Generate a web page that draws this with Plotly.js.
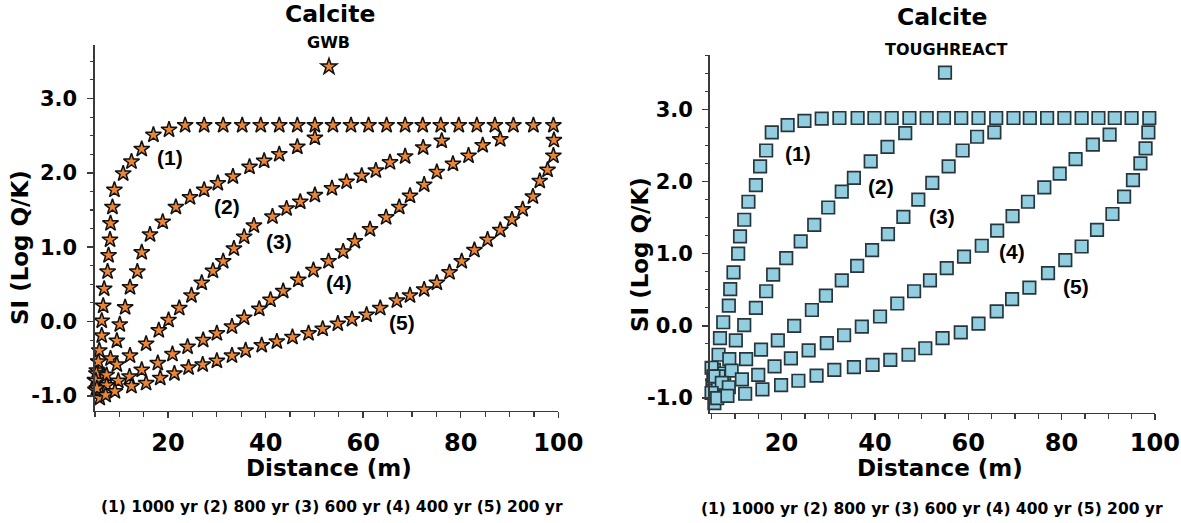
<!DOCTYPE html>
<html>
<head>
<meta charset="utf-8">
<script src="https://cdn.plot.ly/plotly-3.0.1.min.js"></script>
<style>html,body{margin:0;padding:0;background:#fff;}#chart{width:1181px;height:523px;}</style>
</head>
<body>
<div id="chart"></div>
<script>
// ---------- DATA ----------
const curveLabels = ["(1)", "(2)", "(3)", "(4)", "(5)"];
const curveAges = ["1000 yr", "800 yr", "600 yr", "400 yr", "200 yr"];
const mineral = "Calcite";
const leftModel = "GWB";
const rightModel = "TOUGHREACT";
const xTitle = "Distance (m)";
const yTitle = "SI (Log Q/K)";
const yTickVals = [-1, 0, 1, 2, 3];
const yTickText = ["-1.0", "0.0", "1.0", "2.0", "3.0"];
const xTickVals = [20, 40, 60, 80, 100];
const xTickText = ["20", "40", "60", "80", "100"];

// GWB (left panel) – distance (m) and saturation index
const gwb1X = [6.0, 5.1, 5.0, 5.4, 5.7, 5.9, 6.4, 6.4, 6.7, 6.9, 7.6, 7.8, 8.1, 8.2, 8.6, 9.0, 10.8, 12.5, 14.6, 17.0, 20.2, 23.5, 27.4, 31.3, 35.2, 39.0, 42.8, 46.5, 50.1, 53.8, 57.5, 61.1, 64.8, 68.6, 72.2, 75.9, 79.6, 83.3, 87.0, 90.8, 94.9, 99.0];
const gwb1Y = [-1.03, -0.92, -0.79, -0.66, -0.54, -0.39, -0.19, 0.01, 0.21, 0.44, 0.67, 0.89, 1.10, 1.32, 1.54, 1.77, 1.99, 2.15, 2.32, 2.51, 2.58, 2.64, 2.64, 2.64, 2.64, 2.64, 2.64, 2.64, 2.64, 2.64, 2.64, 2.64, 2.64, 2.64, 2.64, 2.64, 2.64, 2.64, 2.64, 2.64, 2.64, 2.64];
const gwb2X = [5.5, 6.8, 8.2, 9.5, 10.1, 11.2, 12.2, 13.7, 14.6, 16.3, 18.9, 21.6, 24.5, 27.4, 30.2, 33.3, 36.7, 39.7, 42.8, 46.5, 50.1];
const gwb2Y = [-0.80, -0.72, -0.50, -0.26, -0.04, 0.19, 0.46, 0.67, 0.93, 1.17, 1.34, 1.54, 1.67, 1.77, 1.86, 1.95, 2.08, 2.16, 2.25, 2.35, 2.47];
const gwb3X = [5.3, 7.4, 9.5, 12.2, 15.5, 18.1, 20.1, 22.3, 24.8, 26.9, 29.2, 31.3, 33.5, 35.6, 37.6, 41.4, 44.3, 47.1, 50.1, 53.6, 56.6, 59.7, 62.6, 65.5, 68.6, 72.3, 76.1];
const gwb3Y = [-0.70, -0.72, -0.58, -0.46, -0.30, -0.12, 0.02, 0.18, 0.35, 0.52, 0.68, 0.81, 0.98, 1.14, 1.29, 1.41, 1.52, 1.61, 1.70, 1.79, 1.88, 1.96, 2.03, 2.14, 2.22, 2.34, 2.43];
const gwb4X = [5.2, 7.4, 9.8, 12.1, 14.6, 17.9, 20.9, 24.0, 27.2, 30.0, 33.1, 35.6, 38.7, 41.0, 43.6, 46.7, 49.8, 52.9, 55.9, 58.3, 61.4, 64.7, 67.4, 69.6, 72.5, 75.1, 78.4, 81.6, 84.5, 88.1];
const gwb4Y = [-0.80, -0.86, -0.80, -0.74, -0.65, -0.56, -0.44, -0.34, -0.25, -0.16, -0.07, 0.05, 0.17, 0.29, 0.41, 0.56, 0.69, 0.81, 0.94, 1.08, 1.24, 1.40, 1.54, 1.69, 1.84, 2.01, 2.12, 2.23, 2.37, 2.45];
const gwb5X = [5.4, 7.2, 9.1, 12.5, 15.5, 18.4, 21.3, 24.2, 27.1, 30.0, 33.1, 35.9, 39.2, 42.3, 45.5, 48.8, 51.7, 54.8, 57.7, 60.7, 63.5, 66.9, 69.6, 72.5, 75.1, 77.7, 80.2, 82.8, 85.5, 88.1, 90.5, 92.7, 94.8, 96.2, 97.8, 99.0, 99.1];
const gwb5Y = [-0.90, -0.99, -0.94, -0.87, -0.83, -0.76, -0.70, -0.62, -0.58, -0.53, -0.46, -0.39, -0.32, -0.27, -0.21, -0.16, -0.10, -0.03, 0.03, 0.09, 0.18, 0.28, 0.35, 0.43, 0.52, 0.66, 0.81, 0.96, 1.10, 1.23, 1.37, 1.51, 1.68, 1.89, 2.04, 2.23, 2.44];

// TOUGHREACT (right panel)
const tr1X = [5.6, 5.2, 5.5, 6.5, 6.8, 7.5, 8.7, 9.0, 9.7, 10.7, 11.1, 12.0, 12.9, 14.5, 15.4, 16.7, 17.9, 21.3, 24.9, 28.6, 32.4, 36.3, 39.9, 43.6, 47.4, 51.1, 54.8, 58.5, 62.2, 66.0, 69.7, 73.2, 76.9, 80.6, 84.3, 87.9, 91.4, 95.0, 98.8];
const tr1Y = [-1.07, -0.82, -0.61, -0.40, -0.17, 0.05, 0.28, 0.51, 0.74, 1.00, 1.24, 1.47, 1.72, 1.95, 2.21, 2.43, 2.68, 2.78, 2.84, 2.87, 2.88, 2.88, 2.88, 2.88, 2.88, 2.88, 2.88, 2.88, 2.88, 2.88, 2.88, 2.88, 2.88, 2.88, 2.88, 2.88, 2.88, 2.88, 2.88];
const tr2X = [5.3, 6.4, 7.7, 8.8, 10.2, 12.0, 14.5, 16.7, 18.2, 21.0, 24.1, 27.0, 30.0, 32.9, 35.5, 39.1, 42.7, 46.5];
const tr2Y = [-0.90, -0.80, -0.66, -0.46, -0.20, 0.01, 0.25, 0.48, 0.71, 0.94, 1.17, 1.40, 1.64, 1.86, 2.05, 2.28, 2.48, 2.67];
const tr3X = [5.0, 6.5, 9.3, 12.4, 15.6, 19.2, 22.7, 26.5, 29.5, 32.9, 36.2, 39.4, 42.8, 46.1, 49.3, 52.3, 55.8, 58.8, 61.9, 65.6];
const tr3Y = [-0.58, -0.70, -0.62, -0.46, -0.33, -0.20, 0.00, 0.22, 0.42, 0.63, 0.83, 1.05, 1.27, 1.51, 1.75, 1.98, 2.21, 2.43, 2.62, 2.68];
const tr4X = [5.4, 7.2, 8.7, 11.5, 15.0, 18.5, 22.0, 25.8, 29.7, 33.4, 37.2, 41.1, 44.8, 48.4, 51.8, 55.4, 59.1, 62.9, 66.2, 69.5, 72.8, 76.3, 79.6, 83.0, 86.7, 90.3];
const tr4Y = [-0.70, -0.79, -0.85, -0.74, -0.68, -0.56, -0.45, -0.34, -0.24, -0.13, -0.01, 0.13, 0.31, 0.48, 0.63, 0.80, 0.96, 1.11, 1.32, 1.52, 1.72, 1.92, 2.11, 2.31, 2.51, 2.65];
const tr5X = [5.0, 6.2, 8.4, 12.2, 15.9, 19.9, 23.6, 27.5, 31.3, 35.5, 39.5, 43.3, 47.2, 50.8, 54.5, 58.4, 62.2, 66.1, 69.4, 73.1, 77.1, 80.8, 84.3, 87.6, 90.9, 93.4, 95.3, 96.9, 98.0, 98.6];
const tr5Y = [-0.93, -1.00, -0.97, -0.94, -0.88, -0.82, -0.76, -0.69, -0.61, -0.57, -0.54, -0.47, -0.40, -0.31, -0.17, -0.09, 0.03, 0.20, 0.37, 0.53, 0.73, 0.91, 1.10, 1.33, 1.55, 1.79, 2.02, 2.25, 2.46, 2.68];

// ---------- STYLE / LAYOUT ----------
const W = 1181, H = 523;
const px = v => v / W;
const py = v => 1 - v / H;
const FW = "DejaVu Sans";
const FL = "Liberation Sans";
const ink = "#000000";
const axisCol = "#3a3a3a";

const gwbSeries = [[gwb1X, gwb1Y], [gwb2X, gwb2Y], [gwb3X, gwb3Y], [gwb4X, gwb4Y], [gwb5X, gwb5Y]];
const trSeries = [[tr1X, tr1Y], [tr2X, tr2Y], [tr3X, tr3Y], [tr4X, tr4Y], [tr5X, tr5Y]];

const starMarker = {symbol: "star", size: 12, color: "#EC8534", line: {color: "#111111", width: 1.5}};
const squareMarker = {symbol: "square", size: 12.5, color: "#92CEDF", line: {color: "#26363d", width: 1.7}};

const traces = [];
gwbSeries.forEach((s, i) => {
  traces.push({x: s[0], y: s[1], type: "scatter", mode: "markers", xaxis: "x", yaxis: "y",
    marker: starMarker, cliponaxis: false, name: "", showlegend: i === 0, legend: "legend", hoverinfo: "x+y"});
});
trSeries.forEach((s, i) => {
  traces.push({x: s[0], y: s[1], type: "scatter", mode: "markers", xaxis: "x2", yaxis: "y2",
    marker: squareMarker, cliponaxis: false, name: "", showlegend: i === 0, legend: "legend2", hoverinfo: "x+y"});
});

function xAx(domain, range, anchor, standoff) {
  return {domain: domain, range: range, anchor: anchor, tickmode: "array", tickvals: xTickVals, ticktext: xTickText,
    ticks: "outside", ticklen: 6, tickwidth: 1.4, tickcolor: axisCol, showline: true, linecolor: axisCol, linewidth: 1.6,
    showgrid: false, zeroline: false, ticklabelstandoff: standoff,
    tickfont: {family: FW, size: 24, color: ink, weight: "bold"},
    minor: {dtick: 5, tick0: 0, ticks: "outside", ticklen: 5, tickwidth: 1.2, tickcolor: axisCol, showgrid: false}};
}
function yAx(domain, range, anchor, standoff) {
  return {domain: domain, range: range, anchor: anchor, tickmode: "array", tickvals: yTickVals, ticktext: yTickText,
    ticks: "outside", ticklen: 6, tickwidth: 1.4, tickcolor: axisCol, showline: true, linecolor: axisCol, linewidth: 1.6,
    showgrid: false, zeroline: false, ticklabelstandoff: standoff,
    tickfont: {family: FW, size: 21, color: ink, weight: "bold"},
    minor: {dtick: 0.25, tick0: 0, ticks: "outside", ticklen: 3.5, tickwidth: 1.1, tickcolor: axisCol, showgrid: false}};
}

const caption = curveLabels.map((l, i) => l + " " + curveAges[i]).join(" ");

function txt(text, x, y, size, extra) {
  return Object.assign({text: text, xref: "paper", yref: "paper", x: px(x), y: py(y), xanchor: "center", yanchor: "middle",
    showarrow: false, font: {family: FW, size: size, color: ink, weight: "bold"}}, extra || {});
}

const annotations = [
  txt(mineral, 329.5, 14, 23.5),
  txt(mineral, 941.5, 17, 23.5),
  txt(leftModel, 328, 42.5, 16),
  txt(rightModel, 946, 49.5, 16),
  txt(xTitle, 329, 468, 23),
  txt(xTitle, 939.5, 468, 23),
  txt(yTitle, 19.5, 247.5, 23, {textangle: -90}),
  txt(yTitle, 640, 255, 23, {textangle: -90}),
  txt(caption, 332, 507, 15.5),
  txt(caption, 932, 509, 15.5)
];
const gwbLabelPos = [[20.4, 2.21], [32.0, 1.55], [42.8, 1.07], [55.0, 0.52], [68.0, -0.01]];
const trLabelPos = [[23.5, 2.39], [41.3, 1.93], [54.3, 1.52], [69.3, 1.03], [83.0, 0.55]];
curveLabels.forEach((l, i) => {
  annotations.push({text: l, xref: "x", yref: "y", x: gwbLabelPos[i][0], y: gwbLabelPos[i][1], showarrow: false,
    xanchor: "center", yanchor: "middle", font: {family: FL, size: 21, color: ink, weight: "bold"}});
  annotations.push({text: l, xref: "x2", yref: "y2", x: trLabelPos[i][0], y: trLabelPos[i][1], showarrow: false,
    xanchor: "center", yanchor: "middle", font: {family: FL, size: 21, color: ink, weight: "bold"}});
});

const legendBase = {bgcolor: "rgba(0,0,0,0)", borderwidth: 0, font: {family: FW, size: 10, color: ink},
  itemwidth: 30, xanchor: "left", yanchor: "middle", orientation: "v"};

const layout = {
  width: W, height: H,
  margin: {l: 0, r: 0, t: 0, b: 0, pad: 0},
  paper_bgcolor: "#ffffff", plot_bgcolor: "#ffffff",
  showlegend: true,
  legend: Object.assign({}, legendBase, {x: px(309), y: py(66.7)}),
  legend2: Object.assign({}, legendBase, {x: px(925), y: py(72.7)}),
  xaxis: xAx([px(94.9), px(558.3)], [5, 100], "y", 4),
  yaxis: yAx([py(410.7), py(45)], [-1.2, 3.72], "x", 6),
  xaxis2: xAx([px(709.7), px(1154.9)], [4.6, 100], "y2", 2),
  yaxis2: yAx([py(412.5), py(55.2)], [-1.2, 3.75], "x2", 5),
  annotations: annotations
};

Plotly.newPlot("chart", traces, layout, {displayModeBar: false, staticPlot: true});
</script>
</body>
</html>
